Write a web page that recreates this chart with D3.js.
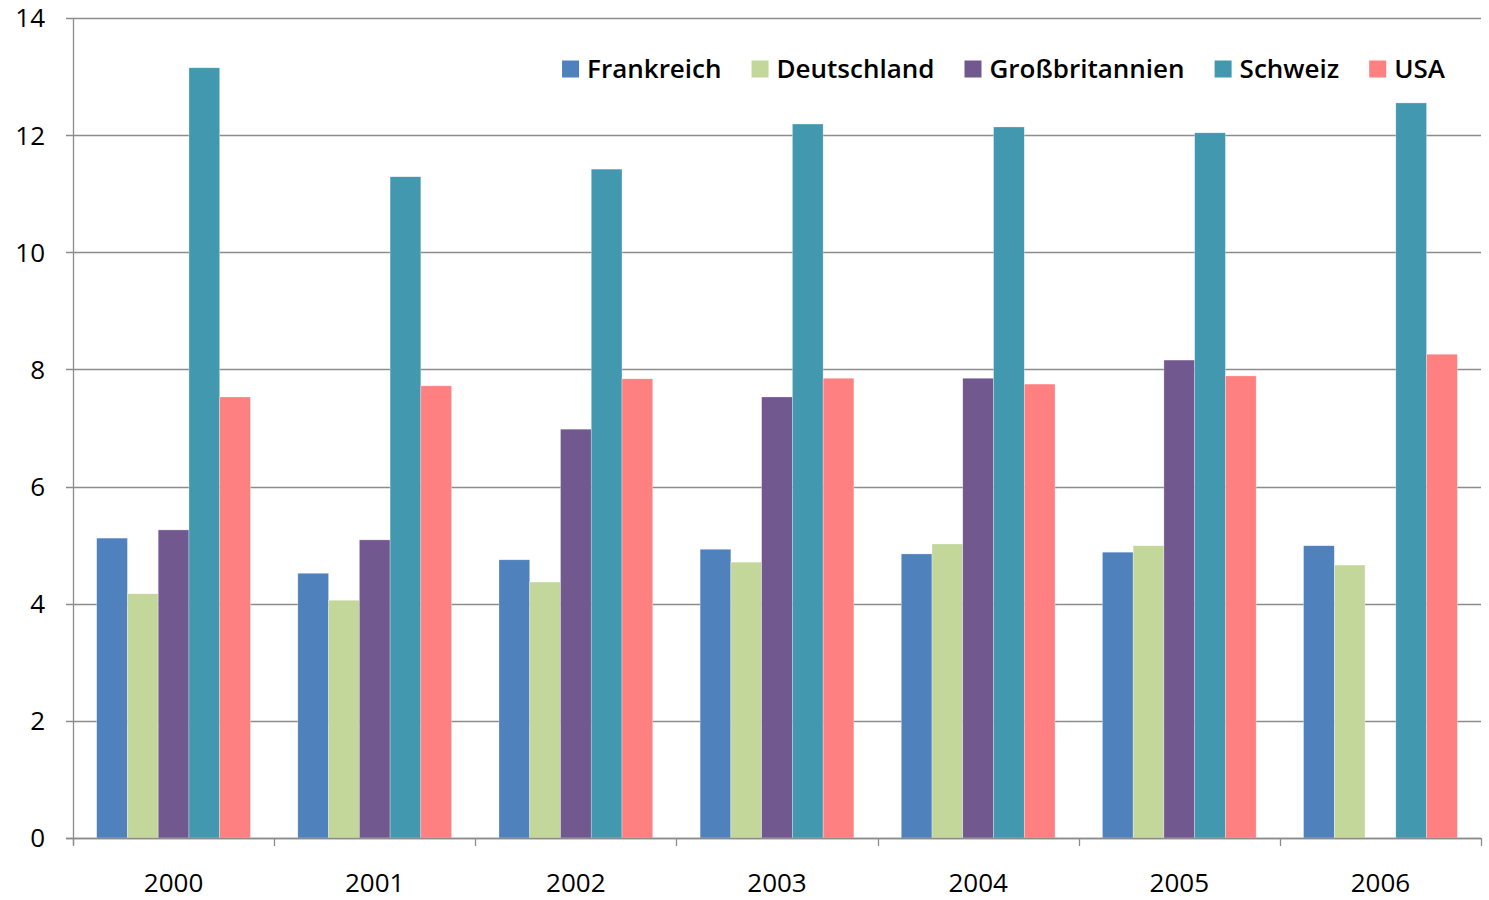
<!DOCTYPE html>
<html>
<head>
<meta charset="utf-8">
<script src="https://cdn.jsdelivr.net/npm/d3@7"></script>
<style>
  body { margin: 0; background: #fff; }
  svg text { font-family: "Open Sans", "Noto Sans", sans-serif; fill: #000; }
</style>
</head>
<body>
<div id="chart"></div>
<script>
const years = ['2000', '2001', '2002', '2003', '2004', '2005', '2006'];
const seriesNames = ['Frankreich', 'Deutschland', 'Großbritannien', 'Schweiz', 'USA'];
const colors = ['#4F81BD', '#C4D79B', '#71588F', '#4298AF', '#FF8080'];

const frankreich = [5.12, 4.52, 4.75, 4.93, 4.85, 4.88, 4.99];
const deutschland = [4.17, 4.06, 4.37, 4.71, 5.02, 4.99, 4.66];
const grossbritannien = [5.26, 5.09, 6.98, 7.53, 7.85, 8.16, null];
const schweiz = [13.15, 11.29, 11.42, 12.19, 12.14, 12.04, 12.55];
const usa = [7.53, 7.72, 7.84, 7.85, 7.75, 7.89, 8.26];
const yTicks = [0, 2, 4, 6, 8, 10, 12, 14];

const seriesValues = [frankreich, deutschland, grossbritannien, schweiz, usa];

const W = 1489, H = 900;
const MARGIN = { TOP: 18, BOTTOM: 62, LEFT: 73, RIGHT: 8 };
const WIDTH = W - MARGIN.LEFT - MARGIN.RIGHT;
const HEIGHT = H - MARGIN.TOP - MARGIN.BOTTOM;

const svg = d3.select('#chart').append('svg')
    .attr('width', W)
    .attr('height', H)
    .append('g')
    .attr('transform', `translate(${MARGIN.LEFT}, ${MARGIN.TOP})`);

const x0 = d3.scaleBand().domain(years).range([0, WIDTH]).padding(0);
const x1 = d3.scaleBand().domain(seriesNames).range([0, x0.bandwidth()])
    .paddingInner(0).paddingOuter(0.77);
const y = d3.scaleLinear().domain([0, 14]).range([HEIGHT, 0]);

// gridlines
svg.append('g')
    .selectAll('line')
    .data(yTicks)
    .enter().append('line')
    .attr('x1', -7)
    .attr('x2', WIDTH)
    .attr('y1', d => Math.round(y(d)) + 0.5)
    .attr('y2', d => Math.round(y(d)) + 0.5)
    .attr('stroke', '#8c8c8c')
    .attr('stroke-width', 1.3);

// y axis labels
svg.append('g')
    .selectAll('text')
    .data(yTicks)
    .enter().append('text')
    .attr('x', -28)
    .attr('y', d => y(d))
    .attr('dy', '0.36em')
    .attr('text-anchor', 'end')
    .style('font-size', '26px')
    .text(d => d);

// bars
const groups = svg.append('g')
    .selectAll('g')
    .data(years)
    .enter().append('g')
    .attr('transform', d => `translate(${x0(d)}, 0)`);

groups.selectAll('rect')
    .data((yr, i) => seriesNames.map((s, j) => ({ s, v: seriesValues[j][i], c: colors[j] }))
        .filter(d => d.v != null))
    .enter().append('rect')
    .attr('x', d => x1(d.s))
    .attr('width', x1.bandwidth())
    .attr('y', d => y(d.v))
    .attr('height', d => HEIGHT - y(d.v))
    .attr('fill', d => d.c)
    .attr('stroke', '#ffffff')
    .attr('stroke-opacity', 0.5)
    .attr('stroke-width', 0.6);

// axes lines
svg.append('line')
    .attr('x1', 0.5).attr('x2', 0.5)
    .attr('y1', 0).attr('y2', HEIGHT + 7)
    .attr('stroke', '#8c8c8c').attr('stroke-width', 1.3);

svg.append('line')
    .attr('x1', -7).attr('x2', WIDTH)
    .attr('y1', HEIGHT + 0.5).attr('y2', HEIGHT + 0.5)
    .attr('stroke', '#8c8c8c').attr('stroke-width', 1.5);

const xTickPos = years.map(d => x0(d)).concat([WIDTH]);
svg.append('g')
    .selectAll('line')
    .data(xTickPos)
    .enter().append('line')
    .attr('x1', d => Math.round(d) + 0.5)
    .attr('x2', d => Math.round(d) + 0.5)
    .attr('y1', HEIGHT)
    .attr('y2', HEIGHT + 8)
    .attr('stroke', '#8c8c8c')
    .attr('stroke-width', 1.3);

// x labels
svg.append('g')
    .selectAll('text')
    .data(years)
    .enter().append('text')
    .attr('x', d => x0(d) + x0.bandwidth() / 2)
    .attr('y', HEIGHT + 54)
    .attr('text-anchor', 'middle')
    .style('font-size', '26px')
    .text(d => d);

// legend
const legend = svg.append('g');
const items = legend.selectAll('g')
    .data(seriesNames)
    .enter().append('g');

items.append('rect')
    .attr('width', 17)
    .attr('height', 17)
    .attr('y', -8.5)
    .attr('fill', (d, i) => colors[i]);

items.append('text')
    .attr('x', 25)
    .attr('dy', '0.36em')
    .style('font-size', '26px')
    .style('font-weight', '600')
    .text(d => d);

// lay out legend left to right so it ends near the right side
const gap = 30;
let widths = [];
items.each(function () {
    widths.push(25 + d3.select(this).select('text').node().getComputedTextLength());
});
let total = d3.sum(widths) + gap * (widths.length - 1);
let cx = (1445 - MARGIN.LEFT) - total;
items.attr('transform', (d, i) => {
    const t = `translate(${cx}, ${69 - MARGIN.TOP})`;
    cx += widths[i] + gap;
    return t;
});
</script>
</body>
</html>
